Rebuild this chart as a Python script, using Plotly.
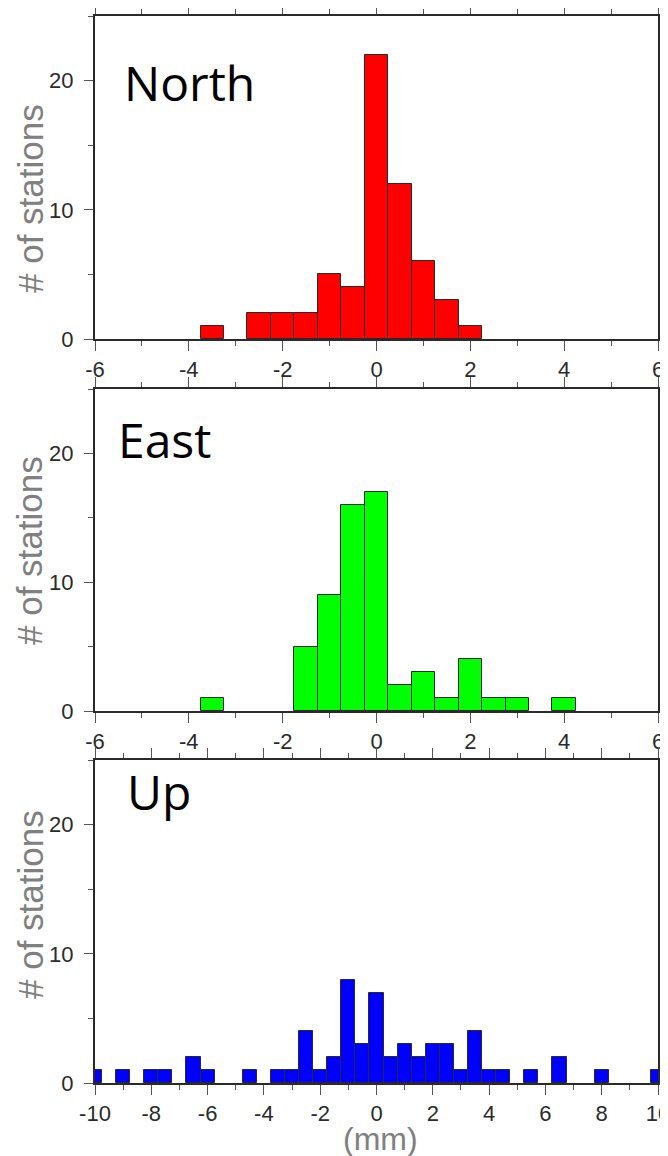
import plotly.graph_objects as go

# ---------------- data ----------------
north_x = [-3.5, -2.5, -2.0, -1.5, -1.0, -0.5, 0.0, 0.5, 1.0, 1.5, 2.0]
north_n = [1, 2, 2, 2, 5, 4, 22, 12, 6, 3, 1]

east_x = [-3.5, -1.5, -1.0, -0.5, 0.0, 0.5, 1.0, 1.5, 2.0, 2.5, 3.0, 4.0]
east_n = [1, 5, 9, 16, 17, 2, 3, 1, 4, 1, 1, 1]

up_x = [-10.0, -9.0, -8.0, -7.5, -6.5, -6.0, -4.5, -3.5, -3.0, -2.5, -2.0, -1.5,
        -1.0, -0.5, 0.0, 0.5, 1.0, 1.5, 2.0, 2.5, 3.0, 3.5, 4.0, 4.5, 5.5, 6.5,
        8.0, 10.0]
up_n = [1, 1, 1, 1, 2, 1, 1, 1, 1, 4, 1, 2,
        8, 3, 7, 2, 3, 2, 3, 3, 1, 4, 1, 1, 1, 2,
        1, 1]

hz_tickvals = [-6, -4, -2, 0, 2, 4, 6]
hz_ticktext = ["-6", "-4", "-2", "0", "2", "4", "6"]
up_tickvals = [-10, -8, -6, -4, -2, 0, 2, 4, 6, 8, 10]
up_ticktext = ["-10", "-8", "-6", "-4", "-2", "0", "2", "4", "6", "8", "10"]
y_tickvals = [0, 10, 20]
y_ticktext = ["0", "10", "20"]

panel_names = ["North", "East", "Up"]
bar_colors = ["#ff0000", "#00ff00", "#0000ff"]
x_ranges = [[-6, 6], [-6, 6], [-10, 10]]
x_ticks = [(hz_tickvals, hz_ticktext), (hz_tickvals, hz_ticktext), (up_tickvals, up_ticktext)]
y_title = "# of stations"
x_title = "(mm)"
bin_width = 0.5

# ---------------- layout geometry ----------------
# The page body has an 8px margin, so the figure is sized to fit the window
OFF = 8
W, H = 668 - OFF, 1156 - OFF
L, R = 95 - OFF, 10
PW = W - L - R
def py(px):
    return 1 - (px - OFF) / H
def pxx(px):
    return (px - OFF - L) / PW

panels_px = [(16, 339), (389, 711), (760, 1083)]
ytitle_centers = [199, 551, 905]
label_pos = [(122, 82), (116, 439), (125, 791)]

fig = go.Figure()
datasets = [(north_x, north_n), (east_x, east_n), (up_x, up_n)]

frame = "#2a2a2a"
tickc = "#555555"
tickfont = dict(family="Liberation Sans, Arial, sans-serif", size=22, color="#2b2b2b")

layout = dict(
    width=W, height=H,
    margin=dict(l=L, r=R, t=0, b=0, autoexpand=False),
    plot_bgcolor="white", paper_bgcolor="white",
    showlegend=False, bargap=0,
)

annotations = []
for i, ((xs, ns), col, xr, (top, bot), (tv, tt)) in enumerate(
        zip(datasets, bar_colors, x_ranges, panels_px, x_ticks)):
    sfx = "" if i == 0 else str(i + 1)
    fig.add_trace(go.Bar(
        x=xs, y=ns, width=[bin_width] * len(xs),
        marker=dict(color=col, line=dict(color="#2a2a2a", width=1)),
        xaxis="x" + sfx, yaxis="y" + sfx,
    ))
    layout["xaxis" + sfx] = dict(
        domain=[0, 1], anchor="y" + sfx, range=xr,
        tickmode="array", tickvals=tv, ticktext=tt,
        ticks="outside", ticklen=10, tickwidth=1.2, tickcolor=tickc,
        minor=dict(dtick=1, tick0=0, ticks="outside", ticklen=5, tickwidth=1.2, tickcolor=tickc),
        showline=True, linecolor=frame, linewidth=2, mirror="ticks",
        showgrid=False, zeroline=False, tickfont=tickfont, ticklabelstandoff=0,
        ticklabeloverflow="allow", automargin=False,
    )
    layout["yaxis" + sfx] = dict(
        domain=[py(bot), py(top)], anchor="x" + sfx, range=[0, 25],
        tickmode="array", tickvals=y_tickvals, ticktext=y_ticktext,
        ticks="outside", ticklen=9, tickwidth=1.2, tickcolor=tickc,
        minor=dict(dtick=5, tick0=0, ticks="outside", ticklen=5, tickwidth=1.2, tickcolor=tickc),
        showline=True, linecolor=frame, linewidth=2, mirror="ticks",
        showgrid=False, zeroline=False, tickfont=tickfont, ticklabelstandoff=6,
        ticklabeloverflow="allow", automargin=False,
    )
    annotations.append(dict(
        text=y_title, xref="paper", yref="paper", x=pxx(30), y=py(ytitle_centers[i]),
        showarrow=False, textangle=-90, xanchor="center", yanchor="middle",
        font=dict(family="Liberation Sans, Arial, sans-serif", size=35, color="#808080"),
    ))
    lx, ly = label_pos[i]
    annotations.append(dict(
        text=panel_names[i], xref="paper", yref="paper",
        x=pxx(lx), y=py(ly), showarrow=False,
        xanchor="left", yanchor="middle",
        font=dict(family="Open Sans, sans-serif", size=48, color="black"),
    ))

annotations.append(dict(
    text=x_title, xref="paper", yref="paper", x=pxx(380), y=py(1139),
    showarrow=False, xanchor="center", yanchor="middle",
    font=dict(family="Liberation Sans, Arial, sans-serif", size=32, color="#808080"),
))

layout["annotations"] = annotations
fig.update_layout(**layout)
fig.write_html("out.html")
